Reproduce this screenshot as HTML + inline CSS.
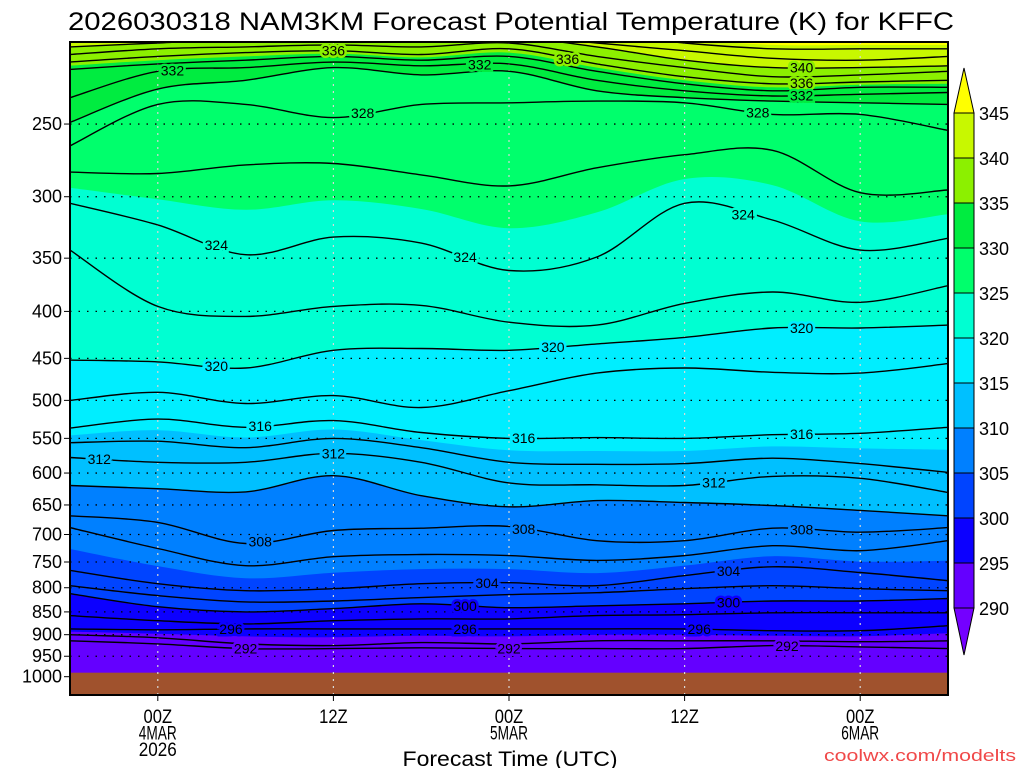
<!DOCTYPE html>
<html><head><meta charset="utf-8"><title>NAM3KM Potential Temperature KFFC</title>
<style>
html,body{margin:0;padding:0;background:#fff;}
svg{display:block;font-family:"Liberation Sans",sans-serif;}
</style></head>
<body>
<svg id="chart" width="1024" height="768" viewBox="0 0 1024 768" xmlns="http://www.w3.org/2000/svg">
<defs><clipPath id="plotclip"><rect x="70" y="42" width="878" height="653"/></clipPath></defs>
<text x="68" y="30" font-size="25" textLength="886" lengthAdjust="spacingAndGlyphs" fill="#000">2026030318 NAM3KM Forecast Potential Temperature (K) for KFFC</text>
<g id="fills" clip-path="url(#plotclip)"></g>
<g id="grid"></g>
<g id="lines" clip-path="url(#plotclip)"></g>
<g id="labels" clip-path="url(#plotclip)"></g>
<g id="axes"></g>
<g id="cbar"></g>
<text x="510" y="766" font-size="21" text-anchor="middle" textLength="215" lengthAdjust="spacingAndGlyphs">Forecast Time (UTC)</text>
<text x="1016" y="761" font-size="17" text-anchor="end" fill="#f04848" textLength="192" lengthAdjust="spacingAndGlyphs">coolwx.com/modelts</text>
</svg>
<script>
// ---- data ----
const times = [-6, 0, 6, 12, 18, 24, 30, 36, 42, 48, 54];
const pressureTicks = [250, 300, 350, 400, 450, 500, 550, 600, 650, 700, 750, 800, 850, 900, 950, 1000];
const timeTicks = [0, 12, 24, 36, 48];
const timeTickLabels = [["00Z","4MAR","2026"], ["12Z"], ["00Z","5MAR"], ["12Z"], ["00Z","6MAR"]];
const fillLevels = [290, 295, 300, 305, 310, 315, 320, 325, 330, 335, 340, 345];
const fillColors = ["#6400ff","#0c00ff","#0044ff","#0080ff","#00c0ff","#00eeff","#00ffd2","#00ff6c","#00ec40","#8cf000","#c8f800","#ffff00"];
const belowColor = "#7400ff";
const groundPressure = 990;
// isentrope theta values (K) and their pressure (hPa) at each time
const isenTheta = [290,292,294,296,298,300,302,304,306,308,310,312,314,316,318,320,322,324,326,328,330,332,334,336,338,340,342,344,346];
const p290 = [990,990,990,990,990,990,990,990,990,990,990];
const p292 = [914,921,932,932,930,932,932,932,925,928,932];
const p294 = [900,907,921,925,918,921,914,914,914,916,914];
const p296 = [887,889,887,887,887,887,887,887,891,891,880];
const p298 = [858,869,876,869,865,865,858,856,852,852,852];
const p300 = [812,839,850,843,833,841,837,833,827,827,822];
const p302 = [796,816,829,827,820,814,810,802,796,802,806];
const p304 = [766,792,806,802,792,790,796,776,759,770,786];
const p306 = [688,725,757,740,736,738,747,738,720,729,711];
const p308 = [668,679,716,693,689,686,711,711,689,696,688];
const p310 = [619,624,629,604,635,653,643,646,651,659,668];
const p312 = [577,584,584,571,584,615,618,619,605,608,630];
const p314 = [556,554,563,550,563,584,587,586,578,586,599];
const p316 = [536,524,535,526,542,550,549,550,545,543,535];
const p318 = [500,490,504,494,509,488,467,461,466,467,456];
const p320 = [452,454,461,441,439,441,434,427,417,417,414];
const p322 = [343,395,405,395,394,411,414,392,381,391,375];
const p324 = [305,322,347,332,337,361,349,305,318,343,333];
const p326 = [282,283,277,276,284,292,279,270,267,297,295];
const p328 = [264,238,238,246,238,237,236,237,244,244,254];
const p330 = [249,229,224,217,221,219,230,234,236,237,238];
const p332 = [234,219,217,214,216,215,224,230,233,232,231];
const p334 = [218,215,213,211,213,211,219,226,230,228,228];
const p336 = [214,211,209,208,210,207,215,222,226,225,224];
const p338 = [210,207,206,205,206,204,211,217,222,221,219];
const p340 = [206,204,202,202,202,201,206,213,217,217,216];
const p342 = [202,201,200,200,200,200,204,208,212,213,211];
const p344 = [198,198,198,198,198,198,199,204,207,207,207];
const p346 = [194,194,194,194,194,194,195,200,203,203,203];
const isenPressures = [p290,p292,p294,p296,p298,p300,p302,p304,p306,p308,p310,p312,p314,p316,p318,p320,p322,p324,p326,p328,p330,p332,p334,p336,p338,p340,p342,p344,p346];
const labelTheta = [336,332,332,336,328,340,336,332,328,324,324,324,320,320,320,316,316,316,312,312,312,308,308,308,304,304,300,300,296,296,296,292,292,292];
const labelTime  = [12,1,22,28,14,44,44,44,41,4,21,40,4,27,44,7,25,44,-4,12,38,7,25,44,22.5,39,21,39,5,21,37,6,24,43];

// ---- scales ----
const X0 = 70, X1 = 948, Y0 = 42, Y1 = 695, P_TOP = 203.5, P_BOT = 1047;
function xs(t){ return X0 + (t - times[0]) * (X1 - X0) / (times[times.length-1] - times[0]); }
function ys(p){ return Y0 + Math.log(p / P_TOP) * (Y1 - Y0) / Math.log(P_BOT / P_TOP); }
function pAt(theta, i){
  if (theta <= isenTheta[0]) return isenPressures[0][i];
  for (let k = 0; k < isenTheta.length - 1; k++){
    if (theta >= isenTheta[k] && theta <= isenTheta[k+1]){
      const f = (theta - isenTheta[k]) / (isenTheta[k+1] - isenTheta[k]);
      const a = Math.log(isenPressures[k][i]), b = Math.log(isenPressures[k+1][i]);
      return Math.exp(a + f * (b - a));
    }
  }
  return isenPressures[isenPressures.length-1][i] - (theta - isenTheta[isenTheta.length-1]) * 2;
}
function smoothPath(pts){
  let d = "M" + pts[0][0].toFixed(1) + "," + pts[0][1].toFixed(1);
  for (let i = 0; i < pts.length - 1; i++){
    const p0 = pts[Math.max(0,i-1)], p1 = pts[i], p2 = pts[i+1], p3 = pts[Math.min(pts.length-1,i+2)];
    const c1x = p1[0] + (p2[0]-p0[0])/6, c1y = p1[1] + (p2[1]-p0[1])/6;
    const c2x = p2[0] - (p3[0]-p1[0])/6, c2y = p2[1] - (p3[1]-p1[1])/6;
    d += " C" + c1x.toFixed(1)+","+c1y.toFixed(1)+" "+c2x.toFixed(1)+","+c2y.toFixed(1)+" "+p2[0].toFixed(1)+","+p2[1].toFixed(1);
  }
  return d;
}
const NS = "http://www.w3.org/2000/svg";
function mk(tag, attrs, parent){
  const e = document.createElementNS(NS, tag);
  for (const k in attrs) e.setAttribute(k, attrs[k]);
  parent.appendChild(e);
  return e;
}

// ---- fills ----
const gF = document.getElementById("fills");
const base = mk("rect", {x:X0, y:Y0, width:X1-X0, height:Y1-Y0, fill:belowColor}, gF);


fillLevels.forEach((lv, j) => {
  const pts = times.map((t, i) => [xs(t), ys(pAt(lv, i))]);
  const d = "M" + X0 + "," + (Y0-5) + " L" + pts[0][0] + "," + pts[0][1].toFixed(1) + smoothPath(pts).replace(/^M[^C]*/, " ") + " L" + X1 + "," + (Y0-5) + " Z";
  const el = mk("path", {d: d, fill: fillColors[j]}, gF);
  
  
});
const ground = mk("rect", {x:X0, y:ys(groundPressure), width:X1-X0, height:Y1-ys(groundPressure), fill:"#a0522d"}, gF);



// ---- grid ----
const gG = document.getElementById("grid");
pressureTicks.forEach(p => {
  if (p === 1000) return;
  const l = mk("line", {x1:X0, x2:X1, y1:ys(p), y2:ys(p), stroke:"#000", "stroke-width":1.3, "stroke-dasharray":"1.5,7"}, gG);
  
  
});
timeTicks.forEach(t => {
  const l = mk("line", {x1:xs(t), x2:xs(t), y1:Y0, y2:Y1, stroke:"#d8d8d8", "stroke-width":1.2, "stroke-dasharray":"2,5"}, gG);
  
  
});

// ---- contour lines ----
const gL = document.getElementById("lines");
isenTheta.forEach((th, k) => {
  if (th < 292) return;
  const pts = times.map((t, i) => [xs(t), ys(isenPressures[k][i])]);
  const el = mk("path", {d: smoothPath(pts), fill:"none", stroke:"#000", "stroke-width":1.4}, gL);
  
  
});

// ---- contour labels ----
const gT = document.getElementById("labels");
function bandColor(th){
  let c = belowColor;
  fillLevels.forEach((lv, j) => { if (th >= lv) c = fillColors[j]; });
  return c;
}
labelTheta.forEach((th, n) => {
  const t = labelTime[n];
  const k = isenTheta.indexOf(th);
  let i = 0; while (i < times.length - 2 && t > times[i+1]) i++;
  const f = (t - times[i]) / (times[i+1] - times[i]);
  const p = Math.exp(Math.log(isenPressures[k][i]) * (1-f) + Math.log(isenPressures[k][i+1]) * f);
  const el = mk("text", {x:xs(t), y:ys(p)+5, "font-size":14, "text-anchor":"middle", fill:"#000", stroke:bandColor(th-1), "stroke-width":5, "paint-order":"stroke"}, gT);
  el.textContent = th;
  
  
});

// ---- axes ----
const gA = document.getElementById("axes");
const frame = mk("rect", {x:X0, y:Y0, width:X1-X0, height:Y1-Y0, fill:"none", stroke:"#000", "stroke-width":2}, gA);


pressureTicks.forEach(p => {
  const tk = mk("line", {x1:X0-6, x2:X0, y1:ys(p), y2:ys(p), stroke:"#000", "stroke-width":1}, gA);
  
  
  const tx = mk("text", {x:X0-8, y:ys(p)+6, "font-size":18, "text-anchor":"end"}, gA);
  tx.textContent = p;
  
  
});
timeTicks.forEach((t, n) => {
  const tk = mk("line", {x1:xs(t), x2:xs(t), y1:Y1, y2:Y1+6, stroke:"#000", "stroke-width":1}, gA);
  
  
  timeTickLabels[n].forEach((s, r) => {
    const tx = mk("text", {x:xs(t), y:723+r*16.5, "font-size":19, "text-anchor":"middle", textLength: s.length*9.5, lengthAdjust:"spacingAndGlyphs"}, gA);
    tx.textContent = s;
    
    
  });
});

// ---- colorbar ----
const gC = document.getElementById("cbar");
const CBX = 954, CBW = 20, CB_TOP = 113, CB_BOT = 608;
const step = (CB_BOT - CB_TOP) / (fillLevels.length - 1);
const lowTri = mk("polygon", {points: CBX+","+CB_BOT+" "+(CBX+CBW)+","+CB_BOT+" "+(CBX+CBW/2)+",655", fill:belowColor, stroke:"#000", "stroke-width":1}, gC);


fillLevels.forEach((lv, j) => {
  if (j === fillLevels.length - 1) return;
  const y = CB_BOT - (j+1) * step;
  const r = mk("rect", {x:CBX, y:y, width:CBW, height:step, fill:fillColors[j], stroke:"#000", "stroke-width":1}, gC);
  
  
});
const topTri = mk("polygon", {points: CBX+","+CB_TOP+" "+(CBX+CBW)+","+CB_TOP+" "+(CBX+CBW/2)+",68", fill:fillColors[fillColors.length-1], stroke:"#000", "stroke-width":1}, gC);


fillLevels.forEach((lv, j) => {
  const tx = mk("text", {x:979, y:CB_BOT - j*step + 7, "font-size":18}, gC);
  tx.textContent = lv;
  
  
});
</script>
</body></html>
